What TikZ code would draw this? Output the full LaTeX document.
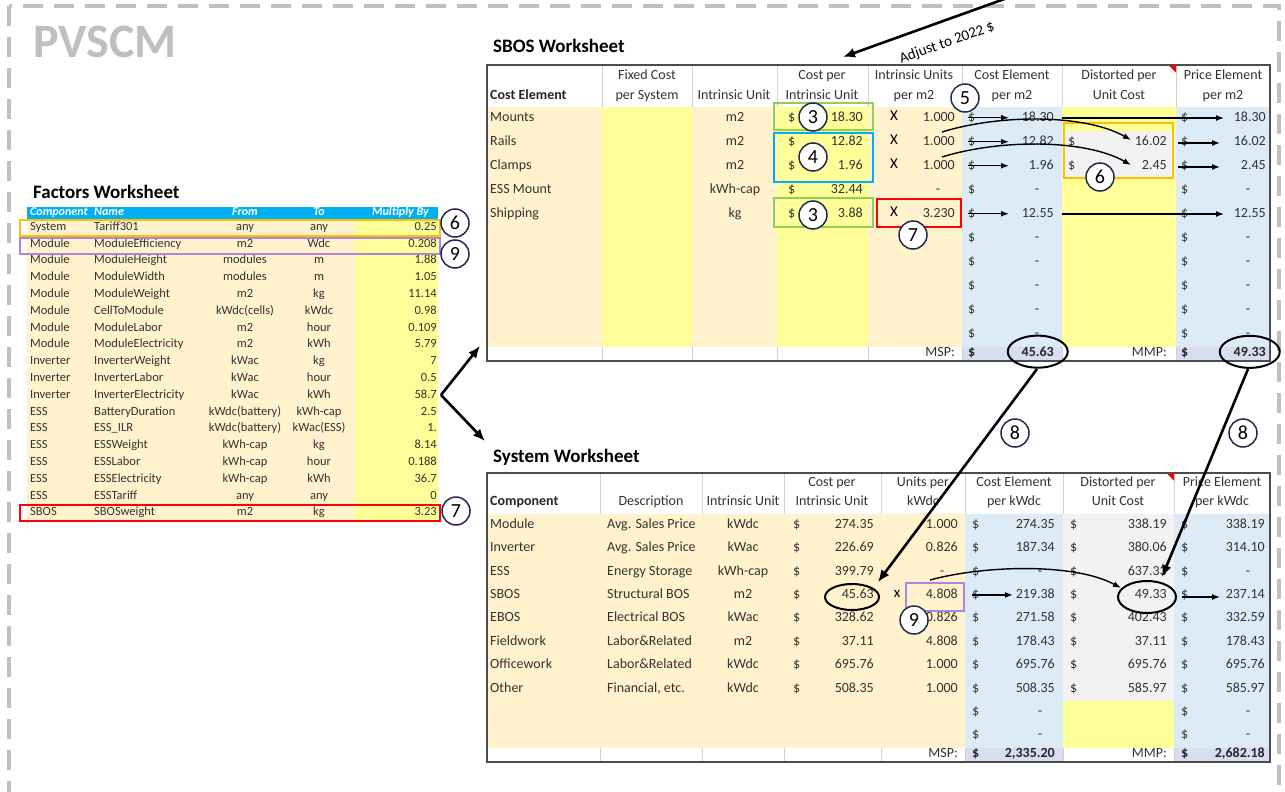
\documentclass[tikz,border=0pt]{standalone}
\usepackage{fontspec}
\setmainfont{Carlito}
\usetikzlibrary{arrows.meta}
\definecolor{beige}{HTML}{FFF2CC}
\definecolor{yel}{HTML}{FFFF99}
\definecolor{lblue}{HTML}{DDEBF7}
\definecolor{lgray}{HTML}{F2F2F2}
\definecolor{lav}{HTML}{D9DDF0}
\definecolor{hblue}{HTML}{00B0F0}
\definecolor{ctext}{HTML}{333333}
\definecolor{navy}{HTML}{1F2D4D}
\definecolor{bgreen}{HTML}{92D050}
\definecolor{bcyan}{HTML}{00B0F0}
\definecolor{borange}{HTML}{FFC000}
\definecolor{bred}{HTML}{FF0000}
\definecolor{bpurple}{HTML}{B084D8}
\definecolor{pvgray}{HTML}{BFBFBF}
\definecolor{sepc}{HTML}{D0D0D0}
\newcommand\cellL[4]{\node[cell,anchor=mid west] (#1) at (#2,#3) {#4};}
\newcommand\cellR[4]{\node[cell,anchor=mid east] (#1) at (#2,#3) {#4};}
\newcommand\cellC[4]{\node[cell,anchor=mid] (#1) at (#2,#3) {#4};}
% dollar + value: name, x of $, x right, y, value
\newcommand\dv[5]{\node[cell,anchor=mid west] (#1d) at (#2,#4) {\symbol{36}};\node[cell,anchor=mid east] (#1) at (#3,#4) {#5};}
% dollar + dash: name, x of $, x of dash, y
\newcommand\dd[4]{\node[cell,anchor=mid west] (#1d) at (#2,#4) {\symbol{36}};\node[cell,anchor=mid] (#1) at (#3,#4) {-};}
\begin{document}
\begin{tikzpicture}[x=1pt,y=-1pt,
  cell/.style={inner sep=0pt, font=\fontsize{14}{16}\selectfont, text=ctext},
  bcell/.style={inner sep=0pt, font=\bfseries\fontsize{14}{16}\selectfont, text=black!85},
  fcell/.style={inner sep=0pt, font=\fontsize{12.5}{14}\selectfont, text=ctext},
  fhd/.style={inner sep=0pt, font=\bfseries\itshape\fontsize{12}{14}\selectfont, text=white},
  xmark/.style={inner sep=0pt, font=\fontsize{15}{16}\selectfont, text=black},
  num/.style={circle, draw=navy, line width=1.5pt, fill=white, minimum size=28pt, inner sep=0pt, font=\fontsize{20}{20}\selectfont},
  hl/.style={line width=2pt},
  bigarrow/.style={line width=2.6pt, -{Latex[length=12pt,width=10pt]}},
  smallarrow/.style={line width=1.4pt, -{Latex[length=8pt,width=6pt]}},
  ring/.style={line width=2pt},
  dashbrd/.style={draw=pvgray, line width=4pt, dash pattern=on 20pt off 11pt},
  ttl/.style={inner sep=0pt, anchor=base west, font=\bfseries\fontsize{19}{20}\selectfont}]
\useasboundingbox (0,0) rectangle (1285,792);
\fill[white] (0,0) rectangle (1285,792);
\draw[dashbrd] (9,6) rectangle (1279,830);
\node[inner sep=0pt, anchor=base west, font=\bfseries\fontsize{48}{48}\selectfont, text=pvgray] (pv) at (33,58) {PVSCM};

% ================= Factors worksheet =================
\node[ttl] (ftitle) at (33,198) {Factors Worksheet};
\fill[beige] (27,219.6) rectangle (355,522);
\fill[yel] (355,219.6) rectangle (438,522);
\fill[hblue] (27,207) rectangle (438,219.6);
\node[fhd,anchor=mid west] (fh1) at (30,213.3) {Component};
\node[fhd,anchor=mid west] (fh2) at (94,213.3) {Name};
\node[fhd,anchor=mid] (fh3) at (245,213.3) {From};
\node[fhd,anchor=mid] (fh4) at (319,213.3) {To};
\node[fhd,anchor=mid east] (fh5) at (429,213.3) {Multiply By};
\foreach \fA/\fB/\fC/\fD/\fE [count=\i] in {System/Tariff301/any/any/0.25, Module/ModuleEfficiency/m2/Wdc/0.208, Module/ModuleHeight/modules/m/1.88, Module/ModuleWidth/modules/m/1.05, Module/ModuleWeight/m2/kg/11.14, Module/CellToModule/kWdc(cells)/kWdc/0.98, Module/ModuleLabor/m2/hour/0.109, Module/ModuleElectricity/m2/kWh/5.79, Inverter/InverterWeight/kWac/kg/7, Inverter/InverterLabor/kWac/hour/0.5, Inverter/InverterElectricity/kWac/kWh/58.7, ESS/BatteryDuration/kWdc(battery)/kWh-cap/2.5, ESS/ESS\_ILR/kWdc(battery)/kWac(ESS)/1., ESS/ESSWeight/kWh-cap/kg/8.14, ESS/ESSLabor/kWh-cap/hour/0.188, ESS/ESSElectricity/kWh-cap/kWh/36.7, ESS/ESSTariff/any/any/0, SBOS/SBOSweight/m2/kg/3.23}
{
  \pgfmathsetmacro\yy{228+16.8*(\i-1)}
  \node[fcell,anchor=mid west] (fa\i) at (30,\yy) {\fA};
  \node[fcell,anchor=mid west] (fb\i) at (94,\yy) {\fB};
  \node[fcell,anchor=mid] (fc\i) at (245,\yy) {\fC};
  \node[fcell,anchor=mid] (fd\i) at (319,\yy) {\fD};
  \node[fcell,anchor=mid east] (fe\i) at (437,\yy) {\fE};
}
\draw[hl,draw=borange] (20,220) rectangle (440,236);
\draw[hl,draw=bpurple] (20,238) rectangle (440,254);
\draw[hl,draw=bred] (20,505) rectangle (440,521);
\node[num] (fc6) at (455,223) {6};
\node[num] (fc9) at (455,254) {9};
\node[num] (fc7) at (456,511) {7};
\coordinate (fork) at (441,395);
\coordinate (toS) at (480,346);
\coordinate (toY) at (485,441);
\draw[bigarrow] (fork) -- (toS);
\draw[bigarrow] (fork) -- (toY);

% ================= SBOS worksheet =================
\node[ttl] (stitle) at (493,53) {SBOS Worksheet};
\fill[beige] (487,107) rectangle (1270,347);
\fill[yel] (602,107) rectangle (692,347);
\fill[yel] (777,107) rectangle (868,347);
\fill[lblue] (962,107) rectangle (1062,347);
\fill[yel] (1062,107) rectangle (1176,347);
\fill[lgray] (1062,131) rectangle (1176,179);
\fill[lblue] (1176,107) rectangle (1270,347);
\fill[lav] (962,347) rectangle (1062,361);
\fill[lav] (1176,347) rectangle (1270,361);
\foreach \xx in {602,692,777,868,962,1062,1176} {
  \draw[sepc, line width=0.8pt] (\xx,65) -- (\xx,107);
  \draw[sepc, line width=0.8pt] (\xx,347) -- (\xx,361);
}
\draw[black!70, line width=1.2pt] (487,65) rectangle (1270,361);
\fill[bred] (1169,65.6) -- (1176,65.6) -- (1176,72.6) -- cycle;
% header
\node[bcell,anchor=mid west] (sh1) at (490,97) {Cost Element};
\cellC{sh2a}{647}{77}{Fixed Cost}\cellC{sh2b}{647}{97}{per System}
\cellC{sh3}{734}{97}{Intrinsic Unit}
\cellC{sh4a}{822}{77}{Cost per}\cellC{sh4b}{822}{97}{Intrinsic Unit}
\cellC{sh5a}{914}{77}{Intrinsic Units}\cellC{sh5b}{914}{97}{per m2}
\cellC{sh6a}{1012}{77}{Cost Element}\cellC{sh6b}{1012}{97}{per m2}
\cellC{sh7a}{1119}{77}{Distorted per}\cellC{sh7b}{1119}{97}{Unit Cost}
\cellC{sh8a}{1223}{77}{Price Element}\cellC{sh8b}{1223}{97}{per m2}
% rows
\cellL{s1a}{490}{119}{Mounts}\cellC{s1u}{735}{119}{m2}\dv{s1c}{788}{863}{119}{18.30}
\node[xmark,anchor=mid] (s1x) at (894,118) {X}; \cellR{s1i}{955}{119}{1.000}
\dv{s1e}{968}{1054}{119}{18.30}\dv{s1p}{1181}{1266}{119}{18.30}
\cellL{s2a}{490}{143}{Rails}\cellC{s2u}{735}{143}{m2}\dv{s2c}{788}{863}{143}{12.82}
\node[xmark,anchor=mid] (s2x) at (894,142) {X}; \cellR{s2i}{955}{143}{1.000}
\dv{s2e}{968}{1054}{143}{12.82}\dv{s2t}{1068}{1167}{143}{16.02}\dv{s2p}{1181}{1266}{143}{16.02}
\cellL{s3a}{490}{167}{Clamps}\cellC{s3u}{735}{167}{m2}\dv{s3c}{788}{863}{167}{1.96}
\node[xmark,anchor=mid] (s3x) at (894,166) {X}; \cellR{s3i}{955}{167}{1.000}
\dv{s3e}{968}{1054}{167}{1.96}\dv{s3t}{1068}{1167}{167}{2.45}\dv{s3p}{1181}{1266}{167}{2.45}
\cellL{s4a}{490}{191}{ESS Mount}\cellC{s4u}{735}{191}{kWh-cap}\dv{s4c}{788}{863}{191}{32.44}
\cellC{s4i}{938}{191}{-}\dd{s4e}{968}{1037}{191}\dd{s4p}{1181}{1248}{191}
\cellL{s5a}{490}{215}{Shipping}\cellC{s5u}{735}{215}{kg}\dv{s5c}{788}{863}{215}{3.88}
\node[xmark,anchor=mid] (s5x) at (894,214) {X}; \cellR{s5i}{955}{215}{3.230}
\dv{s5e}{968}{1054}{215}{12.55}\dv{s5p}{1181}{1266}{215}{12.55}
\foreach \r [count=\k] in {239,263,287,311,335} {
  \dd{sx\k e}{968}{1037}{\r}\dd{sx\k p}{1181}{1248}{\r}
}
\cellR{smsp}{955}{354}{MSP:}
\node[bcell,anchor=mid west] (smspd) at (968,354) {\symbol{36}};
\node[bcell,anchor=mid east] (smspv) at (1054,354) {45.63};
\cellR{smmp}{1167}{354}{MMP:}
\node[bcell,anchor=mid west] (smmpd) at (1181,354) {\symbol{36}};
\node[bcell,anchor=mid east] (smmpv) at (1266,354) {49.33};
% highlight boxes
\draw[hl,draw=bgreen] (774,103) rectangle (873,130);
\draw[hl,draw=bcyan] (774,133) rectangle (873,182);
\draw[hl,draw=bgreen] (774,198) rectangle (873,227);
\draw[hl,draw=bred] (877,199) rectangle (961,227);
\draw[hl,draw=borange] (1064,123) rectangle (1173,178);
% arrows
\draw[smallarrow] (s1ed.west) -- ++(41,0);
\draw[smallarrow] (s2ed.west) -- ++(41,0);
\draw[smallarrow] (s3ed.west) -- ++(41,0);
\draw[smallarrow] (s5ed.west) -- ++(41,0);
\draw[smallarrow] (1062,118) -- (1224,118);
\draw[smallarrow] (1062,214) -- (1224,214);
\draw[smallarrow] (1178,143) -- (1220,143);
\draw[smallarrow] (1178,167) -- (1220,167);
\draw[smallarrow] (942,132) .. controls (1000,114) and (1085,114) .. (1131,140);
\draw[smallarrow] (942,157) .. controls (1000,139) and (1085,139) .. (1131,165);
\draw[ring] (smspv) ellipse [x radius=30, y radius=16];
\draw[ring] (smmpv) ellipse [x radius=30, y radius=16];
\node[num] (sn3a) at (813,117) {3};
\node[num] (sn4) at (813,157) {4};
\node[num] (sn3b) at (813,215) {3};
\node[num] (sn5) at (965,98) {5};
\node[num] (sn6) at (1100,177) {6};
\node[num] (sn7) at (913,235) {7};

% Adjust arrow
\coordinate (adjS) at (1010,-3);
\coordinate (adjE) at (843,57);
\draw[bigarrow] (adjS) -- (adjE);
\node[inner sep=0pt, rotate=19.4, font=\fontsize{15}{16}\selectfont] (adj) at (947,43) {Adjust to 2022 \symbol{36}};

% ================= System worksheet =================
\node[ttl] (ytitle) at (493,462) {System Worksheet};
\fill[beige] (487,514) rectangle (965,748);
\fill[lblue] (965,514) rectangle (1063,748);
\fill[lgray] (1063,514) rectangle (1174,701.2);
\fill[yel] (1063,701.2) rectangle (1174,748);
\fill[lblue] (1174,514) rectangle (1270,748);
\fill[lav] (965,748) rectangle (1063,762);
\fill[lav] (1174,748) rectangle (1270,762);
\foreach \xx in {600,702,784,881,965,1063,1174} {
  \draw[sepc, line width=0.8pt] (\xx,473) -- (\xx,514);
  \draw[sepc, line width=0.8pt] (\xx,748) -- (\xx,762);
}
\draw[black!70, line width=1.2pt] (487,473) rectangle (1270,762);
\fill[bred] (1167,473.6) -- (1174,473.6) -- (1174,480.6) -- cycle;
\node[bcell,anchor=mid west] (yh1) at (490,503) {Component};
\cellC{yh2}{651}{503}{Description}
\cellC{yh3}{743}{503}{Intrinsic Unit}
\cellC{yh4a}{832}{484}{Cost per}\cellC{yh4b}{832}{503}{Intrinsic Unit}
\cellC{yh5a}{923}{484}{Units per}\cellC{yh5b}{923}{503}{kWdc}
\cellC{yh6a}{1014}{484}{Cost Element}\cellC{yh6b}{1014}{503}{per kWdc}
\cellC{yh7a}{1118}{484}{Distorted per}\cellC{yh7b}{1118}{503}{Unit Cost}
\cellC{yh8a}{1222}{484}{Price Element}\cellC{yh8b}{1222}{503}{per kWdc}
\foreach \cA/\cB/\cC/\cD/\cE/\cF/\cG/\cH [count=\i] in {
  Module/Avg. Sales Price/kWdc/274.35/1.000/274.35/338.19/338.19,
  Inverter/Avg. Sales Price/kWac/226.69/0.826/187.34/380.06/314.10,
  ESS/Energy Storage/kWh-cap/399.79/-/-/637.33/-,
  SBOS/Structural BOS/m2/45.63/4.808/219.38/49.33/237.14,
  EBOS/Electrical BOS/kWac/328.62/0.826/271.58/402.43/332.59,
  Fieldwork/Labor\&Related/m2/37.11/4.808/178.43/37.11/178.43,
  Officework/Labor\&Related/kWdc/695.76/1.000/695.76/695.76/695.76,
  Other/{Financial, etc.}/kWdc/508.35/1.000/508.35/585.97/585.97}
{
  \pgfmathsetmacro\yy{526+23.4*(\i-1)}
  \cellL{y\i a}{490}{\yy}{\cA}
  \cellL{y\i b}{607}{\yy}{\cB}
  \cellC{y\i u}{743}{\yy}{\cC}
  \dv{y\i c}{793}{874}{\yy}{\cD}
  \dv{y\i t}{1070}{1167}{\yy}{\cG}
  \ifnum\i=3
    \cellC{y\i i}{942}{\yy}{-}
    \dd{y\i e}{972}{1040}{\yy}\dd{y\i p}{1181}{1248}{\yy}
  \else
    \cellR{y\i i}{958}{\yy}{\cE}
    \dv{y\i e}{972}{1055}{\yy}{\cF}\dv{y\i p}{1181}{1265}{\yy}{\cH}
  \fi
}
\foreach \r [count=\k] in {713.2,736.6} {
  \dd{yx\k e}{972}{1040}{\r}\dd{yx\k p}{1181}{1248}{\r}
}
\node[xmark,anchor=mid] (y4x) at (897,595.2) {x};
\cellR{ymsp}{958}{755}{MSP:}
\node[bcell,anchor=mid west] (ymspd) at (972,755) {\symbol{36}};
\node[bcell,anchor=mid east] (ymspv) at (1055,755) {2,335.20};
\cellR{ymmp}{1167}{755}{MMP:}
\node[bcell,anchor=mid west] (ymmpd) at (1181,755) {\symbol{36}};
\node[bcell,anchor=mid east] (ymmpv) at (1265,755) {2,682.18};
% annotations
\draw[ring] (852,597) ellipse [x radius=27, y radius=13];
\draw[ring] (1147,597) ellipse [x radius=29, y radius=16];
\draw[hl,draw=bpurple] (906,583) rectangle (964,611);
\draw[smallarrow] (y4ed.west) -- ++(41,0);
\draw[smallarrow] (1182,597) -- (1220,597);
\draw[smallarrow] (930,580) .. controls (985,565) and (1075,563) .. (1121,588);
\node[num] (yn9) at (914,620) {9};

% arrows 8
\coordinate (m8a) at (1037,369);
\coordinate (m8b) at (878,582);
\coordinate (m8c) at (1248,369);
\coordinate (m8d) at (1162,577);
\draw[bigarrow] (m8a) -- (m8b);
\draw[bigarrow] (m8c) -- (m8d);
\node[num] (n8a) at (1015,433) {8};
\node[num] (n8b) at (1243,433) {8};
\end{tikzpicture}
\end{document}
